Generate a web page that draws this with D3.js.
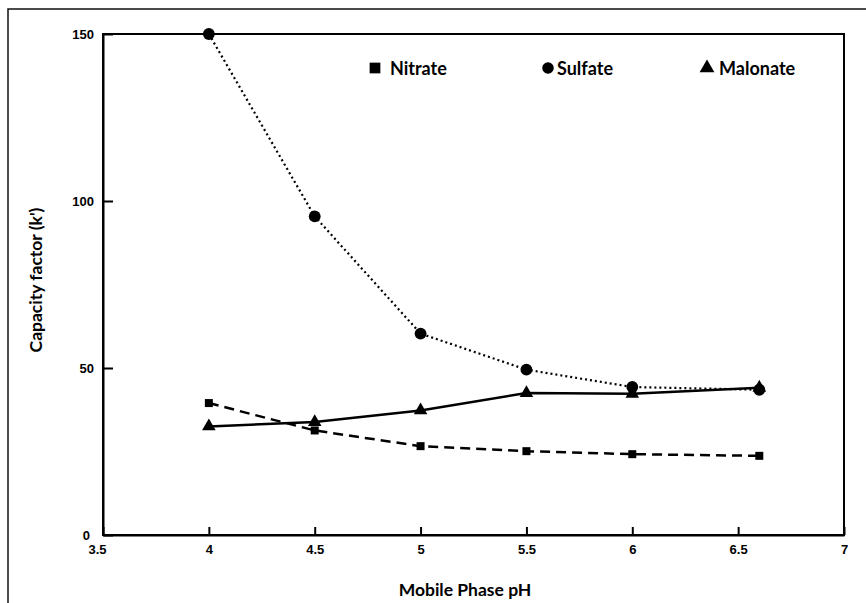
<!DOCTYPE html>
<html>
<head>
<meta charset="utf-8">
<script src="https://cdn.jsdelivr.net/npm/d3@7"></script>
<style>
  body { margin: 0; background: #fff; }
  .tick text { font-family: "Liberation Sans", Arial, sans-serif; font-weight: bold; font-size: 13px; fill: #000; }
  .title { font-family: Lato, "Open Sans", sans-serif; font-weight: bold; fill: #000; }
</style>
</head>
<body>
<script>
// data
const ph_values = [4, 4.5, 5, 5.5, 6, 6.6];
const nitrate = [39.5, 31.3, 26.6, 25.1, 24.2, 23.7];
const sulfate = [150, 95.4, 60.3, 49.5, 44.3, 43.5];
const malonate = [32.5, 33.8, 37.3, 42.5, 42.3, 44.1];

const x_ticks = [3.5, 4, 4.5, 5, 5.5, 6, 6.5, 7];
const y_ticks = [0, 50, 100, 150];
const legend_names = ["Nitrate", "Sulfate", "Malonate"];

const WIDTH = 866, HEIGHT = 603;
const plot = {left: 103, right: 844, top: 34, bottom: 535};

const svg = d3.select("body").append("svg")
    .attr("width", WIDTH)
    .attr("height", HEIGHT);

// outer frame (cut off on right and bottom)
svg.append("rect")
    .attr("x", 8).attr("y", 9)
    .attr("width", WIDTH).attr("height", HEIGHT)
    .attr("fill", "none").attr("stroke", "#111").attr("stroke-width", 1.5);

const x = d3.scaleLinear().domain([3.5, 7]).range([plot.left, plot.right]);
const y = d3.scaleLinear().domain([0, 150]).range([plot.bottom, plot.top]);

// plot box
svg.append("rect")
    .attr("x", plot.left).attr("y", plot.top)
    .attr("width", plot.right - plot.left).attr("height", plot.bottom - plot.top)
    .attr("fill", "none").attr("stroke", "#000").attr("stroke-width", 2);

const x_axis = svg.append("g")
    .attr("transform", "translate(0," + plot.bottom + ")")
    .call(d3.axisBottom(x).tickValues(x_ticks).tickFormat(d3.format("")).tickSizeInner(-8).tickSizeOuter(0).tickPadding(10));
x_axis.select(".domain").attr("stroke-width", 2);
x_axis.selectAll(".tick line").attr("stroke-width", 2);
x_axis.selectAll(".tick").filter(d => d === 3.5).select("text").attr("dx", -6);

const y_axis = svg.append("g")
    .attr("transform", "translate(" + plot.left + ",0)")
    .call(d3.axisLeft(y).tickValues(y_ticks).tickSizeInner(-10).tickSizeOuter(0).tickPadding(9));
y_axis.select(".domain").attr("stroke-width", 2);
y_axis.selectAll(".tick line").attr("stroke-width", 2);
y_axis.selectAll(".tick").filter(d => d === 0).select("text").attr("dx", -4);

// axis titles
svg.append("text")
    .attr("class", "title")
    .attr("x", 465).attr("y", 596)
    .attr("text-anchor", "middle")
    .style("font-size", "17.5px")
    .text("Mobile Phase pH");

svg.append("text")
    .attr("class", "title")
    .attr("transform", "translate(42,280) rotate(-90)")
    .attr("text-anchor", "middle")
    .style("font-size", "17.5px")
    .text("Capacity factor (k')");

const line = d3.line()
    .x((d, i) => x(ph_values[i]))
    .y(d => y(d));

const series = [
    {values: sulfate, dash: "2,3", width: 2.2, symbol: d3.symbolCircle, size: 110},
    {values: nitrate, dash: "10,6", width: 2.5, symbol: d3.symbolSquare, size: 64},
    {values: malonate, dash: null, width: 2.5, symbol: d3.symbolTriangle, size: 80}
];

series.forEach(s => {
    svg.append("path")
        .datum(s.values)
        .attr("d", line)
        .attr("fill", "none")
        .attr("stroke", "#000")
        .attr("stroke-width", s.width)
        .attr("stroke-dasharray", s.dash);

    svg.selectAll(null)
        .data(s.values)
        .enter()
        .append("path")
        .attr("d", d3.symbol().type(s.symbol).size(s.size))
        .attr("transform", (d, i) => "translate(" + x(ph_values[i]) + "," + y(d) + ")")
        .attr("fill", "#000");
});

// legend
const legend_items = [
    {name: legend_names[0], symbol: d3.symbolSquare, size: 115, mx: 375, tx: 390},
    {name: legend_names[1], symbol: d3.symbolCircle, size: 105, mx: 548, tx: 557},
    {name: legend_names[2], symbol: d3.symbolTriangle, size: 95, mx: 707, tx: 719}
];

const legend = svg.append("g");
legend_items.forEach(item => {
    legend.append("path")
        .attr("d", d3.symbol().type(item.symbol).size(item.size))
        .attr("transform", "translate(" + item.mx + ",68)")
        .attr("fill", "#000");
    legend.append("text")
        .attr("class", "title")
        .attr("x", item.tx).attr("y", 75)
        .style("font-size", "18px")
        .text(item.name);
});
</script>
</body>
</html>
